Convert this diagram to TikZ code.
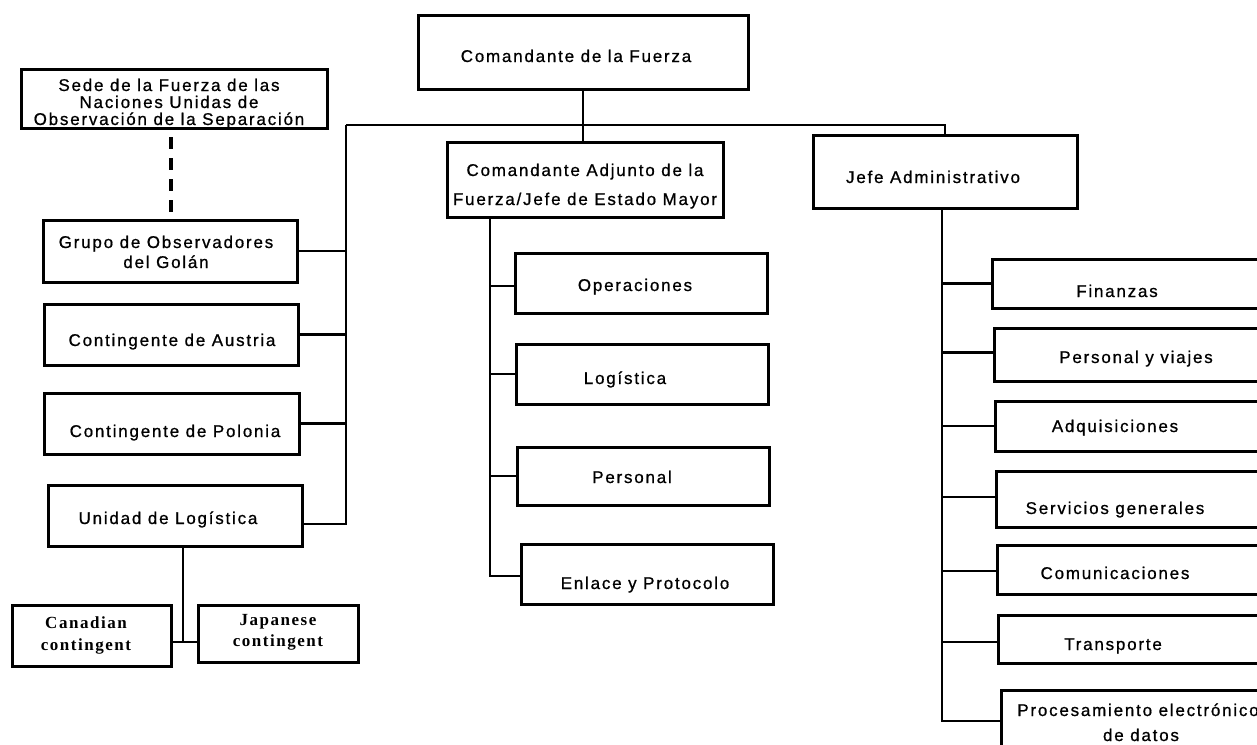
\documentclass[tikz,border=0pt]{standalone}
\usepackage{fontspec}
\newfontfamily\orgsans{Liberation Sans}[LetterSpace=10.5, FakeBold=0.8]
\newfontfamily\orgserif{Liberation Serif}[LetterSpace=9]
\newcommand\obox[5]{%
  \pgfmathsetmacro\obw{#4-#2}\pgfmathsetmacro\obh{#5-#3}%
  \node[box, minimum width=\obw pt, minimum height=\obh pt] (#1) at ({(#2+#4)/2},{(#3+#5)/2}) {};}
\newcommand\otxt[4]{\node[txt] (#1) at (#2,{#3+6}) {#4};}
\newcommand\otxts[4]{\node[stxt] (#1) at (#2,{#3+5.5}) {#4};}
\begin{document}
\begin{tikzpicture}[x=1pt,y=-1pt,
  box/.style={draw, line width=3pt, rectangle, inner sep=0pt, outer sep=0pt},
  conn/.style={line width=2.8pt},
  thinconn/.style={line width=1.2pt},
  sededash/.style={line width=3.2pt, dash pattern=on 12pt off 9pt, dash phase=12pt},
  txt/.style={font=\orgsans\fontsize{17}{19}\selectfont, inner sep=0pt, anchor=base},
  stxt/.style={font=\orgserif\bfseries\fontsize{17}{20}\selectfont, inner sep=0pt, anchor=base}]
\fill[white] (0,0) rectangle (1257,744);
\useasboundingbox (0,0) rectangle (1257,744);

% boxes
\obox{top}{418}{15}{748}{89}
\obox{adj}{447}{142}{723}{217}
\obox{jefe}{813}{135}{1077}{208}
\obox{sede}{21}{69}{327}{128}
\obox{grupo}{43}{220}{297}{282}
\obox{austria}{44}{304}{298}{365}
\obox{polonia}{44}{393}{299}{454}
\obox{unidad}{48}{485}{302}{546}
\obox{canadian}{12}{605}{171}{666}
\obox{japanese}{198}{605}{358}{662}
\obox{operaciones}{515}{253}{767}{313}
\obox{logistica}{516}{344}{768}{404}
\obox{personal}{517}{447}{769}{505}
\obox{enlace}{521}{544}{773}{604}
\obox{finanzas}{992}{259}{1270}{308}
\obox{pviajes}{994}{328}{1270}{381}
\obox{adquis}{995}{401}{1270}{451}
\obox{servicios}{996}{471}{1270}{527}
\obox{comunic}{997}{545}{1270}{594}
\obox{transporte}{998}{615}{1270}{663}
\obox{proces}{1001}{690}{1270}{780}

% texts
\otxt{t1}{576}{56}{Comandante de la Fuerza}
\otxt{t2a}{585}{170}{Comandante Adjunto de la}
\otxt{t2b}{585}{199}{Fuerza/Jefe de Estado Mayor}
\otxt{t3}{933}{177}{Jefe Administrativo}
\node[txt] (t4a) at (169,91) {Sede de la Fuerza de las};
\node[txt] (t4b) at (169,108) {Naciones Unidas de};
\node[txt] (t4c) at (169,125) {Observación de la Separación};
\otxt{t5a}{166}{242}{Grupo de Observadores}
\otxt{t5b}{166}{262}{del Golán}
\otxt{t6}{172}{340}{Contingente de Austria}
\otxt{t7}{175}{431}{Contingente de Polonia}
\otxt{t8}{168}{518}{Unidad de Logística}
\otxts{t9a}{86}{623}{Canadian}
\otxts{t9b}{86}{645}{contingent}
\otxts{t10a}{278}{620}{Japanese}
\otxts{t10b}{278}{641}{contingent}
\otxt{t11}{635}{285}{Operaciones}
\otxt{t12}{625}{378}{Logística}
\otxt{t13}{632}{477}{Personal}
\otxt{t14}{645}{583}{Enlace y Protocolo}
\otxt{t15}{1117}{291}{Finanzas}
\otxt{t16}{1136}{357}{Personal y viajes}
\otxt{t17}{1115}{426}{Adquisiciones}
\otxt{t18}{1115}{508}{Servicios generales}
\otxt{t19}{1115}{573}{Comunicaciones}
\otxt{t20}{1113}{644}{Transporte}
\otxt{t21a}{1138}{710}{Procesamiento electrónico}
\otxt{t21b}{1141}{735}{de datos}

% connectors
\coordinate (busL) at (346,125);
\coordinate (busR) at (945,125);
\coordinate (lvB) at (346,524);
\draw[conn] (top.south) -- (top.south |- adj.north);
\draw[conn] (busL) -- (busR) -- (jefe.north);
\draw[conn] (busL) -- (lvB) -- ([yshift=-8.5pt]unidad.east);
\draw[conn] (grupo.east) -- (grupo.east -| busL);
\draw[conn] (austria.east) -- (austria.east -| busL);
\draw[conn] (polonia.east) -- (polonia.east -| busL);
\draw[sededash] ([xshift=-3pt]sede.south) -- ([xshift=-3pt]sede.south |- grupo.north);

\coordinate (ujoin) at (183,642);
\draw[thinconn] ([xshift=8pt]unidad.south) -- (ujoin);
\draw[thinconn] (canadian.east |- ujoin) -- (japanese.west |- ujoin);

\coordinate (avT) at ([xshift=43pt]adj.south west);
\draw[conn] (avT) |- ([yshift=-2pt]enlace.west);
\draw[conn] ([yshift=-3pt]operaciones.west) -- ([yshift=-3pt]operaciones.west -| avT);
\draw[conn] (logistica.west) -- (logistica.west -| avT);
\draw[conn] (personal.west) -- (personal.west -| avT);

\coordinate (jvT) at ([xshift=129pt]jefe.south west);
\draw[conn] (jvT) |- ([yshift=14pt]proces.west);
\draw[conn] (finanzas.west) -- (finanzas.west -| jvT);
\draw[conn] ([yshift=2pt]pviajes.west) -- ([yshift=2pt]pviajes.west -| jvT);
\draw[conn] (adquis.west) -- (adquis.west -| jvT);
\draw[conn] ([yshift=2pt]servicios.west) -- ([yshift=2pt]servicios.west -| jvT);
\draw[conn] ([yshift=-1.5pt]comunic.west) -- ([yshift=-1.5pt]comunic.west -| jvT);
\draw[conn] ([yshift=-3pt]transporte.west) -- ([yshift=-3pt]transporte.west -| jvT);
\end{tikzpicture}
\end{document}
